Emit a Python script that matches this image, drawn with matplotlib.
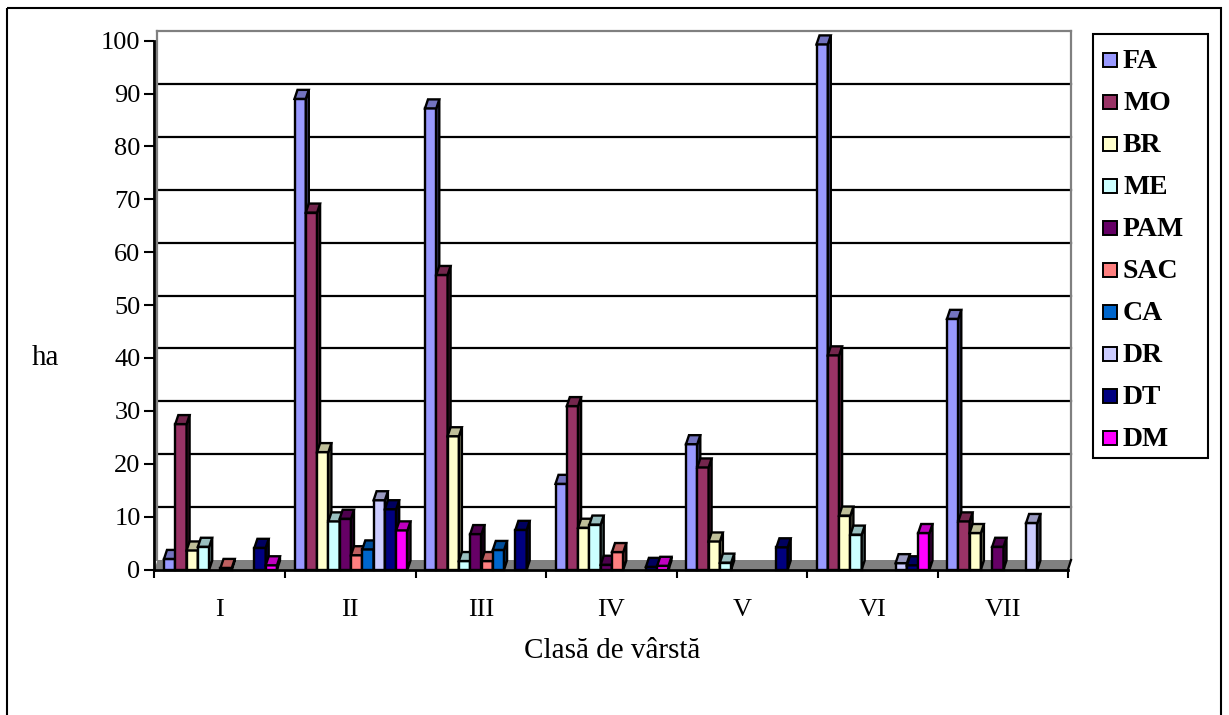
import numpy as np
import matplotlib.pyplot as plt
from matplotlib.patches import Polygon, Rectangle
from matplotlib.colors import to_rgb

plt.rcParams['font.family'] = ['Liberation Serif', 'DejaVu Serif']

# data (ha per age class)
classes = ['I', 'II', 'III', 'IV', 'V', 'VI', 'VII']
species = ['FA', 'MO', 'BR', 'ME', 'PAM', 'SAC', 'CA', 'DR', 'DT', 'DM']
FA = [2.0, 89.0, 87.2, 16.2, 23.7, 99.3, 47.4]
MO = [27.5, 67.5, 55.7, 30.9, 19.3, 40.5, 9.1]
BR = [3.6, 22.2, 25.2, 7.9, 5.3, 10.2, 6.9]
ME = [4.3, 9.1, 1.6, 8.5, 1.3, 6.6, 0]
PAM = [0, 9.6, 6.7, 0.9, 0, 0, 4.3]
SAC = [0.3, 2.7, 1.6, 3.3, 0, 0, 0]
CA = [0, 3.8, 3.7, 0, 0, 0, 0]
DR = [0, 13.1, 0, 0, 0, 1.2, 8.8]
DT = [4.1, 11.4, 7.5, 0.5, 4.2, 0.8, 0]
DM = [0.8, 7.4, 0, 0.7, 0, 6.9, 0]
series = [FA, MO, BR, ME, PAM, SAC, CA, DR, DT, DM]
colors = ['#9999FF', '#993366', '#FFFFCC', '#CCFFFF', '#660066',
          '#FF8080', '#0066CC', '#CCCCFF', '#000080', '#FF00FF']


def shade(c, f):
    r, g, b = to_rgb(c)
    return (r * f, g * f, b * f)


W, H = 1229, 715
fig = plt.figure(figsize=(W / 100, H / 100), dpi=100)

# pixel overlay for frame, legend and axis titles
bg = fig.add_axes([0, 0, 1, 1])
bg.set_xlim(0, W)
bg.set_ylim(H, 0)
bg.axis('off')
bg.add_patch(Rectangle((7, 8), 1214, 720, fill=False, ec='black', lw=1.5, clip_on=False))

# main plot area (front value axis)
x0px, x1px = 154.5, 1068
y0px, y100px = 569.5, 40.7
ax = fig.add_axes([x0px / W, 1 - y0px / H, (x1px - x0px) / W, (y0px - y100px) / H])
ax.set_xlim(0, 7)
ax.set_ylim(0, 100)
ax.patch.set_alpha(0)
ux = 7 / (x1px - x0px)      # data units per pixel
uy = 100 / (y0px - y100px)

wdx, wdy = 3 * ux, 9.5 * uy     # back wall offset
bdx, bdy = 3 * ux, 9 * uy       # bar depth
off, pitch = 9.5 * ux, 11.3 * ux

# back wall gridlines
for v in range(10, 100, 10):
    ax.plot([wdx, 7 + wdx], [v + wdy] * 2, color='black', lw=1.6, zorder=1, clip_on=False)
ax.plot([wdx, 7 + wdx], [100 + wdy] * 2, color='#808080', lw=1.6, zorder=1, clip_on=False)
ax.plot([wdx, wdx], [wdy, 100 + wdy], color='#808080', lw=1.6, zorder=1, clip_on=False)
ax.plot([7 + wdx, 7 + wdx], [wdy, 100 + wdy], color='#808080', lw=1.6, zorder=1, clip_on=False)

# floor
ax.add_patch(Polygon([(0, 0), (7, 0), (7 + wdx, wdy), (wdx, wdy)], closed=True,
                     fc='#808080', ec='none', zorder=1.5, clip_on=False))
ax.plot([7, 7 + wdx], [0, wdy], color='black', lw=1.6, zorder=1.6, clip_on=False)

# bars
idx = np.arange(len(classes))
for j, (vals, c) in enumerate(zip(series, colors)):
    vals = np.array(vals, dtype=float)
    keep = vals > 0
    lefts = idx + off + j * pitch
    z = 3 + j * 0.1
    ax.bar(lefts[keep], vals[keep], width=pitch, align='edge', color=c,
           edgecolor='black', lw=1.7, zorder=z, clip_on=False)
    for x, v in zip(lefts[keep], vals[keep]):
        xr = x + pitch
        ax.add_patch(Polygon([(xr, 0), (xr + bdx, bdy), (xr + bdx, v + bdy), (xr, v)],
                             closed=True, fc=shade(c, 0.5), ec='black', lw=1.7,
                             zorder=z, clip_on=False))
        ax.add_patch(Polygon([(x, v), (xr, v), (xr + bdx, v + bdy), (x + bdx, v + bdy)],
                             closed=True, fc=shade(c, 0.75), ec='black', lw=1.7,
                             zorder=z, clip_on=False))

for s in ['top', 'right']:
    ax.spines[s].set_visible(False)
for s in ['left', 'bottom']:
    ax.spines[s].set_linewidth(2)
    ax.spines[s].set_zorder(2)

ax.set_yticks(range(0, 101, 10))
ax.tick_params(axis='y', length=7, width=1.5, labelsize=19, pad=3)
ax.set_xticks(range(8))
ax.set_xticklabels([])
ax.set_xticks(idx + 0.5, minor=True)
ax.set_xticklabels(classes, minor=True)
ax.tick_params(axis='x', which='major', length=6, width=1.5)
ax.tick_params(axis='x', which='minor', length=0, pad=21, labelsize=19)

bg.text(45, 358, 'ha', fontsize=21, ha='center', va='center')
bg.text(612, 651, 'Clasă de vârstă', fontsize=21, ha='center', va='center')

# legend
bg.add_patch(Rectangle((1093, 34), 115, 424, fill=False, ec='black', lw=1.5))
for k, (name, c) in enumerate(zip(species, colors)):
    y = 60 + 42 * k
    bg.add_patch(Rectangle((1103, y - 7), 14, 14, fc=c, ec='black', lw=1.4))
    bg.text(1123, y + 1, name, fontsize=20, fontweight='bold', ha='left', va='center')

fig.savefig('out.png', dpi=100)
